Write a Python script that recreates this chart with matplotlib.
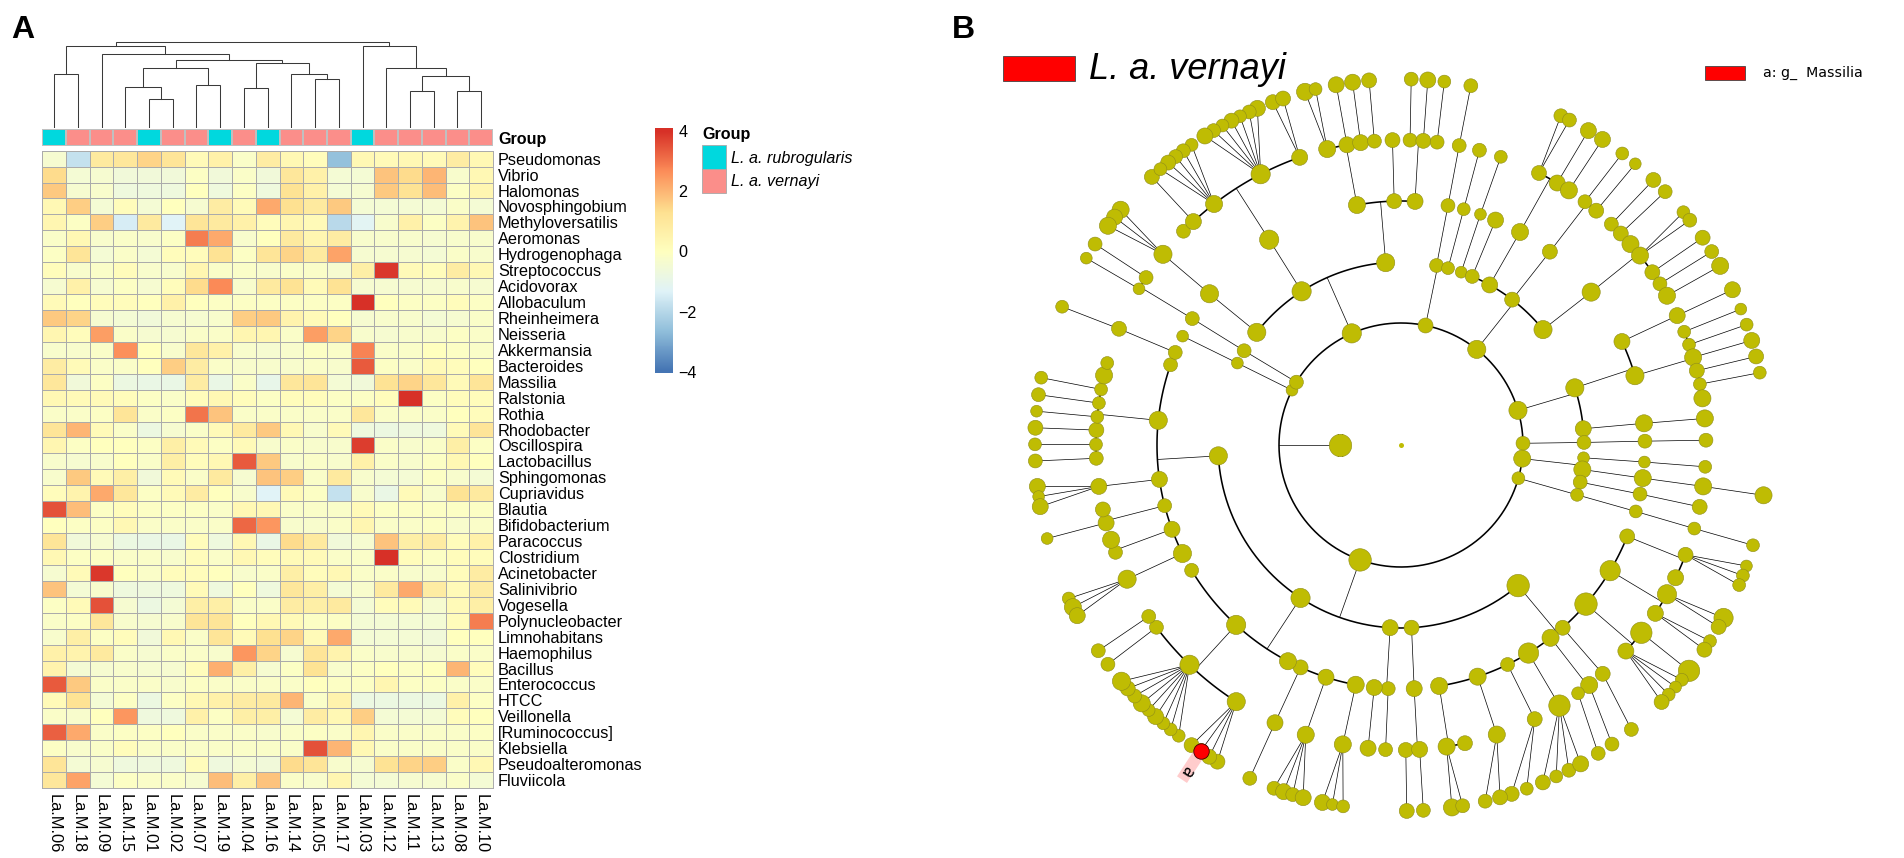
import numpy as np
import matplotlib
matplotlib.use('Agg')
import matplotlib.pyplot as plt
from matplotlib.colors import LinearSegmentedColormap, ListedColormap
from matplotlib.patches import Rectangle

plt.rcParams['font.family'] = ['Liberation Sans', 'DejaVu Sans']

# ---------- panel A data ----------
genera = ['Pseudomonas','Vibrio','Halomonas','Novosphingobium','Methyloversatilis','Aeromonas','Hydrogenophaga',
          'Streptococcus','Acidovorax','Allobaculum','Rheinheimera','Neisseria','Akkermansia','Bacteroides','Massilia',
          'Ralstonia','Rothia','Rhodobacter','Oscillospira','Lactobacillus','Sphingomonas','Cupriavidus','Blautia',
          'Bifidobacterium','Paracoccus','Clostridium','Acinetobacter','Salinivibrio','Vogesella','Polynucleobacter',
          'Limnohabitans','Haemophilus','Bacillus','Enterococcus','HTCC','Veillonella','[Ruminococcus]','Klebsiella',
          'Pseudoalteromonas','Fluviicola']
samples = ['La.M.06','La.M.18','La.M.09','La.M.15','La.M.01','La.M.02','La.M.07','La.M.19','La.M.04','La.M.16',
           'La.M.14','La.M.05','La.M.17','La.M.03','La.M.12','La.M.11','La.M.13','La.M.08','La.M.10']
sample_group = [0,1,1,1,0,1,1,0,1,0,1,1,1,0,1,1,1,1,1]
group_names = ['L. a. rubrogularis', 'L. a. vernayi']
group_colors = ['#00D8DE', '#FB8E8A']

zscores = [
 [-0.4,-1.8,0.9,1.0,1.5,1.1,0.2,0.6,-0.2,0.8,0.3,0.1,-2.6,0.3,0.2,0.3,0.2,0.8,0.3],
 [1.4,-0.5,-0.4,-0.6,-0.6,-0.6,-0.1,-0.6,-0.2,-0.6,1.0,0.6,-0.5,-0.5,1.8,1.4,2.0,-0.3,0.3],
 [1.7,-0.4,-0.3,-0.7,-0.7,-0.7,0,-0.7,-0.1,-0.7,1.2,0.6,-0.5,-0.4,1.7,1.2,1.9,-0.1,0.4],
 [0.3,1.6,-0.5,0.1,-0.5,0,-0.4,0.8,0.2,2.2,1.3,0.9,1.7,-0.5,-0.5,-0.5,-0.5,-0.2,-0.5],
 [0.4,-0.1,1.6,-1.5,0.9,-1.3,1.1,0.9,0.6,0.1,0.4,0.2,-2.0,-1.2,-0.3,0.6,-0.1,0.5,1.8],
 [-0.2,0.3,-0.3,-0.2,-0.3,-0.1,2.9,2.2,-0.3,0,0.9,0.4,0.8,-0.3,-0.3,-0.3,-0.4,-0.3,-0.3],
 [-0.1,1.1,-0.5,-0.2,-0.5,0.1,0.1,1.2,-0.1,1.1,1.5,0.9,2.3,-0.4,-0.4,-0.4,-0.5,-0.2,-0.3],
 [0.1,-0.3,-0.2,0.1,-0.3,-0.3,0.4,-0.2,-0.2,-0.3,-0.2,-0.2,-0.4,0.7,3.9,0.2,0.1,0.8,0.3],
 [-0.4,0.6,-0.4,-0.1,-0.4,0.1,1.4,2.7,-0.3,0.9,1.2,0.2,1.2,-0.4,-0.4,-0.4,-0.4,-0.3,-0.4],
 [0.2,0,0.1,0.1,0,0.6,0,-0.1,-0.1,-0.1,-0.1,-0.1,-0.1,4.0,0,-0.1,-0.1,0.1,-0.1],
 [1.7,1.5,-0.4,-0.5,-0.6,-0.4,-0.4,-0.3,1.6,1.7,0.5,0.2,0,-0.4,-0.3,-0.3,-0.5,-0.4,-0.2],
 [0.4,0.1,2.4,-0.2,-0.4,-0.4,-0.2,-0.2,0.4,0.4,-0.2,2.4,1.5,-0.3,-0.4,-0.3,-0.3,-0.1,-0.2],
 [-0.3,-0.3,-0.2,2.6,0,-0.3,1.0,0.6,-0.3,-0.4,-0.3,-0.1,-0.2,2.8,-0.2,-0.2,0,-0.1,-0.2],
 [0.8,0.2,-0.2,-0.2,0,1.6,0.8,-0.2,-0.3,-0.3,-0.3,-0.2,-0.3,3.4,-0.1,-0.2,0.2,0.1,0],
 [1.0,-0.6,-0.1,-0.8,-0.9,-0.9,0.8,-0.9,-0.2,-1.0,1.0,1.1,-0.5,-0.6,1.2,1.5,1.0,0.2,1.1],
 [0.3,0.2,0.2,0.1,-0.1,-0.2,0.1,0.3,0.1,-0.1,0.1,0.1,-0.1,-0.1,0.1,4.0,-0.1,0.1,0.1],
 [-0.2,-0.2,-0.1,1.1,-0.2,-0.1,3.0,1.8,-0.2,-0.2,-0.2,-0.2,-0.2,1.0,-0.2,-0.2,-0.2,0,0.1],
 [1.1,2.0,0.2,-0.2,-0.8,-0.4,-0.2,0.2,0.9,1.7,0.3,-0.3,0.2,-0.7,-0.8,-0.7,-0.7,0.2,1.1],
 [0.4,-0.1,0,0,-0.1,0.7,0.2,-0.1,0.2,-0.3,-0.2,-0.3,-0.3,3.8,-0.2,-0.3,-0.2,0.7,-0.1],
 [-0.3,-0.4,-0.3,0,-0.2,0.7,0.1,0.3,3.4,1.7,-0.3,-0.2,-0.3,0.6,-0.2,-0.3,-0.1,0.3,0],
 [-0.3,1.7,0.2,0.7,-0.6,0.2,-0.2,0.9,-0.4,1.8,1.6,-0.2,0.9,-0.3,-0.5,-0.5,-0.1,-0.3,-0.5],
 [0.1,0.5,2.2,1.0,-0.1,0.2,0.8,0,-0.3,-1.3,0.2,-0.1,-1.8,-0.3,-0.9,0.2,-0.3,1.2,0.9],
 [3.5,1.9,-0.1,0.1,-0.1,-0.1,-0.1,-0.2,0.3,0.3,-0.2,-0.2,-0.2,0.2,-0.1,-0.1,-0.1,-0.1,-0.1],
 [0,-0.1,-0.1,0.3,-0.2,-0.2,-0.2,-0.2,3.2,2.5,-0.3,-0.3,-0.2,0.4,-0.2,-0.2,-0.1,-0.3,-0.2],
 [1.1,-0.6,-0.4,-0.8,-0.9,-0.9,0.1,-0.7,0.3,-0.9,1.4,0.9,-0.6,-0.4,1.8,0.7,0.8,0.1,0.6],
 [0.3,-0.1,-0.1,-0.2,-0.2,-0.3,0.1,-0.2,0.3,0.1,0.2,0.2,-0.2,-0.2,4.0,0.1,-0.1,0.1,0.1],
 [-0.4,0.2,3.9,0,-0.2,0.1,0.1,0,-0.3,-0.2,0.7,0.1,0.3,-0.2,-0.2,-0.3,-0.3,0.1,0.8],
 [1.8,-0.5,-0.3,-0.7,-0.7,-0.7,0.2,-0.7,0,-0.7,1.0,0.7,-0.5,-0.3,0.9,2.2,0.8,0.2,0.8],
 [-0.1,0.2,3.5,-0.4,-0.8,-0.5,0.7,0.7,-0.2,-0.2,0.8,0.7,0.9,-0.5,0.1,0.2,-0.4,0.2,0.7],
 [-0.2,-0.1,1.0,-0.3,-0.4,-0.3,1.1,1.1,0,0.3,0.2,-0.1,-0.1,-0.5,-0.5,-0.5,-0.5,0.1,2.9],
 [-0.3,0.7,-0.1,0.1,-0.6,0.3,-0.2,1.1,0.2,1.3,1.5,0.2,2.2,-0.5,-0.5,-0.5,-0.6,0,0],
 [0.6,0.5,0.9,-0.2,-0.4,-0.2,-0.2,-0.3,2.5,1.5,-0.4,1.1,0.5,-0.2,-0.3,-0.3,-0.4,-0.2,-0.2],
 [0.5,-0.5,-0.4,-0.3,-0.4,-0.4,0.1,2.1,0.7,-0.4,-0.1,1.2,-0.3,-0.1,0,-0.1,0,2.0,0.1],
 [3.4,1.7,-0.2,-0.2,-0.2,-0.3,-0.1,-0.2,-0.2,-0.2,-0.2,0,-0.1,-0.1,0.4,-0.1,-0.1,-0.2,-0.2],
 [0.2,1.2,-0.5,-0.1,-0.8,-0.1,0.3,0.6,0.8,0.9,2.0,-0.2,0.5,-0.8,-0.8,-0.8,-0.8,0.6,-0.1],
 [-0.2,-0.3,0,2.5,-0.7,-0.7,0.6,-0.1,0.7,0.7,-0.5,0.8,0.3,1.6,-0.5,-0.5,-0.5,0.1,0],
 [3.3,2.2,-0.2,-0.1,-0.1,0,-0.2,-0.2,-0.2,-0.3,-0.2,-0.1,-0.2,0.4,-0.2,-0.2,-0.2,-0.2,-0.1],
 [-0.1,-0.3,-0.2,0.1,-0.2,-0.2,-0.2,-0.2,-0.2,-0.2,-0.2,3.5,2.0,0.3,-0.2,-0.2,-0.2,-0.2,-0.2],
 [1.1,-0.5,-0.4,-0.7,-0.7,-0.7,0.1,-0.7,-0.5,-0.6,1.4,1.1,-0.3,-0.4,1.2,1.5,1.6,-0.2,0.3],
 [1.0,2.3,-0.5,-0.1,-0.2,-0.2,-0.4,1.9,0.7,1.8,-0.2,-0.3,0.4,-0.5,-0.5,-0.4,-0.4,-0.2,-0.5],
]

# dendrogram merges: (left id, right id, height); ids >= 19 refer to earlier merges
merges = [(0,1,53.4),(4,5,28.4),(3,20,41),(6,7,42.4),(21,22,59.4),(8,9,39.4),(11,12,48.4),(10,25,53.4),(24,26,65),
          (23,27,67.4),(2,28,73.4),(19,29,81.4),(15,16,36.4),(17,18,36.4),(31,32,52),(14,33,59.4),(13,34,81.4),(30,35,85.4)]

# ---------- panel B data (cladogram: angle in degrees, parent index in the previous ring, node size) ----------
ring2_deg = [113.8,78.4,51.6,16.5,0.8,353.6,344.2,250.4,153.3,149.0]
ring2_size = [18,14,17,17,13,16,12,21,11,13]
ring3_deg = [142.0,122.9,94.8,78.8,75.1,70.8,67.1,61.0,52.6,39.1,18.2,5.1,0.8,356.0,352.3,348.3,344.2,309.8,273.3,266.6,236.7,183.4,153.4,149.0]
ring3_parent = [0,0,0,1,1,2,2,2,2,2,3,3,4,5,5,5,6,7,7,7,7,7,8,9]
ring3_size = [17,18,17,13,12,11,13,15,14,17,17,15,13,11,16,13,12,21,14,15,18,17,11,13]
ring4_deg = [141.7,122.7,100.4,91.6,86.7,78.9,75.1,71.0,67.2,60.8,52.4,38.8,25.1,16.5,5.1,0.9,356.0,352.2,348.4,344.2,338.0,329.0,319.3,311.5,307.8,301.5,295.9,288.3,
             279.0,273.1,267.0,263.7,259.3,252.1,245.7,242.4,227.5,210.9,206.4,200.2,194.4,188.1,174.2,160.8,157.7,153.5,148.8]
ring4_parent = [0,1,2,2,2,3,4,5,6,7,8,9,10,10,11,12,13,14,15,16,17,17,17,17,17,17,17,17,17,18,19,19,20,20,20,20,20,20,21,21,21,21,21,21,21,22,23]
ring4_size = [17,18,16,14,15,13,12,11,15,16,14,17,15,17,16,13,11,16,13,12,14,19,21,14,16,19,13,16,16,15,13,15,16,15,14,16,18,13,17,15,13,15,17,13,13,11,13]
ring5_deg = [141.3,135.5,132.9,127.8,117.4,109.4,104.0,100.2,97.6,95.0,91.6,88.3,85.8,83.2,79.0,75.1,70.9,63.1,59.2,56.6,52.9,50.2,46.4,43.9,41.2,38.4,34.5,31.9,
             29.3,25.1,21.8,19.2,16.7,14.1,11.5,8.8,5.0,0.9,355.9,352.2,348.3,344.1,338.9,334.2,330.7,326.5,322.0,317.5,311.4,308.1,305.5,301.3,296.0,288.3,278.6,282.1,
             270.9,273.5,267.1,263.8,259.0,251.8,245.6,237.3,226.1,216.7,214.2,206.1,200.6,198.1,194.8,192.2,187.8,182.5,179.9,177.2,174.7,172.1,169.5,166.8,164.4,157.6,149.2,146.7]
ring5_parent = [0,1,1,1,1,1,2,2,2,2,3,4,4,4,5,6,7,9,9,9,10,10,11,11,11,11,11,11,11,12,13,13,13,13,13,13,14,15,16,17,18,19,20,20,21,21,22,22,23,24,24,25,26,27,28,28,29,29,30,31,
                32,33,34,36,36,36,36,38,39,39,40,40,41,42,42,42,42,42,42,42,42,44,46,46]
ring5_size = [17,13,15,16,18,15,16,15,15,13,14,13,14,13,13,13,12,14,15,16,13,14,13,14,16,16,14,13,16,15,12,12,16,14,12,16,16,13,12,16,14,12,
              14,15,18,15,20,15,14,16,12,20,14,16,16,14,14,15,13,15,16,16,15,17,18,13,13,17,13,16,15,14,15,13,12,14,12,12,12,16,12,14,11,13]
ring6_deg = [140.0,141.5,143.2,132.9,124.9,126.5,128.0,129.5,131.1,113.1,114.5,116.1,117.6,119.2,120.8,122.4,110.5,108.8,105.2,103.5,100.2,97.6,95.0,88.4,85.8,83.2,79.0,64.1,
             62.6,59.2,56.6,52.8,50.2,46.4,43.8,39.5,37.9,34.5,31.9,29.3,25.1,21.8,19.2,16.6,14.0,11.4,352.1,344.1,340.7,339.1,337.5,331.8,330.2,327.6,326.0,321.9,
             320.1,318.6,317.0,315.4,309.0,305.2,302.6,292.8,295.1,297.3,299.4,287.6,290.1,283.3,285.7,278.0,279.7,270.9,273.5,257.6,259.2,260.9,249.7,251.3,252.8,254.5,245.6,239.9,
             238.4,236.8,235.1,232.6,231.0,229.5,227.9,226.4,224.9,223.3,221.7,220.2,216.8,214.2,204.8,206.3,207.8,194.8,186.5,188.1,189.7,182.5,179.9,177.3,174.7,172.1,169.4,157.8,
             149.3,146.7]
ring6_parent = [0,0,0,2,3,3,3,3,3,4,4,4,4,4,4,4,5,5,6,6,7,8,9,11,12,13,14,17,17,18,19,20,21,22,23,25,25,26,27,28,29,30,31,32,33,34,39,41,42,42,42,44,44,45,45,46,47,47,47,47,
                48,49,50,51,51,51,51,52,52,53,53,54,54,56,57,60,60,60,61,61,61,61,62,63,63,63,63,64,64,64,64,64,64,64,64,64,65,66,67,67,67,70,72,72,72,73,74,75,76,77,78,81,82,83]
ring6_size = [16,15,16,14,12,13,13,14,12,15,13,12,14,12,13,15,14,14,16,12,15,15,14,13,15,12,13,13,13,15,15,12,11,14,13,12,13,14,13,16,15,11,12,15,14,12,16,12,11,12,12,18,14,12,14,20,12,11,12,14,
              13,13,13,14,12,13,15,14,12,13,14,16,13,14,13,15,11,12,13,15,13,15,13,14,14,15,14,12,12,12,15,12,16,13,14,17,13,13,12,16,15,11,15,11,15,13,12,14,11,13,12,12,11,13]
highlight_index = 85
highlight_label = 'a'
level1_deg, level1_size = 180.0, 21
root_size = 5
legend_big = 'L. a. vernayi'
legend_small = 'a: g_  Massilia'

# ---------- layout helpers ----------
W, H = 1904, 858
fig = plt.figure(figsize=(W/100, H/100), dpi=100)

def px_axes(x0, y0, x1, y1, **kw):
    return fig.add_axes([x0/W, 1-y1/H, (x1-x0)/W, (y1-y0)/H], **kw)

overlay = px_axes(0, 0, W, H)
overlay.set_xlim(0, W); overlay.set_ylim(H, 0); overlay.axis('off')

HM_L, HM_R, HM_T, HM_B = 42.3, 493.0, 150.7, 788.0
cmap = LinearSegmentedColormap.from_list('rb', ['#4575B4','#91BFDB','#E0F3F8','#FFFFBF','#FEE090','#FC8D59','#D73027'], N=256)
nr, nc = len(genera), len(samples)
GRID = '#ABABAB'

# heatmap
ax = px_axes(HM_L, HM_T, HM_R, HM_B)
ax.pcolormesh(np.arange(nc+1), np.arange(nr+1), np.array(zscores), cmap=cmap, vmin=-4, vmax=4, edgecolors=GRID, linewidth=0.5)
ax.set_xlim(0, nc); ax.set_ylim(nr, 0)
ax.yaxis.tick_right()
ax.set_yticks(np.arange(nr)+.5, genera, fontsize=11.7)
ax.set_xticks(np.arange(nc)+.5, samples, fontsize=11.8, rotation=270)
ax.tick_params(length=0, axis='y', pad=3.6)
ax.tick_params(length=0, axis='x', pad=4.2)
for s in ax.spines.values():
    s.set_edgecolor(GRID); s.set_linewidth(0.7)

# annotation row
ax = px_axes(HM_L, 129.3, HM_R, 146.0)
ax.pcolormesh(np.arange(nc+1), [0, 1], np.array([sample_group]), cmap=ListedColormap(group_colors), vmin=0, vmax=1, edgecolors='#C0C0C0', linewidth=0.3)
ax.set_xlim(0, nc); ax.set_ylim(0, 1); ax.set_xticks([])
ax.yaxis.tick_right()
ax.set_yticks([.5], ['Group'], fontsize=11.6, fontweight='bold')
ax.tick_params(length=0, pad=3.6)
for s in ax.spines.values():
    s.set_visible(False)

# dendrogram
ax = px_axes(HM_L, 35, HM_R, 127.7)
ax.set_xlim(0, nc); ax.set_ylim(0, 92.7); ax.axis('off')
pos = {i: (i+.5, 0.0) for i in range(nc)}
for k, (a, b, h) in enumerate(merges):
    xa, ya = pos[a]; xb, yb = pos[b]
    ax.plot([xa, xa, xb, xb], [ya, h, h, yb], color='#3A3A3A', lw=0.75, solid_joinstyle='miter')
    pos[nc+k] = ((xa+xb)/2, h)

# colour bar
ax = px_axes(655, 128.3, 672.3, 373.3)
ax.imshow(np.linspace(4.09, -4.05, 256)[:, None], aspect='auto', cmap=cmap, vmin=-4, vmax=4, extent=[0, 1, -4.05, 4.09])
ax.set_xticks([]); ax.yaxis.tick_right()
ax.set_yticks([4, 2, 0, -2, -4], ['4', '2', '0', '\u22122', '\u22124'], fontsize=11.6)
ax.tick_params(length=0, pad=4.5)
for s in ax.spines.values():
    s.set_visible(False)

# group legend
overlay.text(702.5, 134, 'Group', fontsize=11.6, fontweight='bold', va='center')
for i, (name, col) in enumerate(zip(group_names, group_colors)):
    overlay.add_patch(Rectangle((702.3, 145.3+i*23.7), 23.7, 23.7, fc=col, ec='#A8A8A8', lw=0.6))
    overlay.text(731, 158+i*23.7, name, fontsize=11.6, style='italic', va='center')

# panel letters
overlay.text(11, 38, 'A', fontsize=23, fontweight='bold', va='baseline')
overlay.text(952, 38, 'B', fontsize=23, fontweight='bold', va='baseline')

# cladogram legends
overlay.add_patch(Rectangle((1003.3, 55.7), 71.7, 25, fc='#FF0000', ec='#444444', lw=0.6))
overlay.text(1089, 79, legend_big, fontsize=26, style='italic', va='baseline')
overlay.add_patch(Rectangle((1705.3, 66), 39.7, 14, fc='#FF0000', ec='#444444', lw=0.6))
overlay.text(1763, 73, legend_small, fontsize=10.2, family='DejaVu Sans', va='center')

# cladogram
CX, CY, RMAX = 1401, 445, 400
pol = fig.add_axes([(CX-RMAX)/W, 1-(CY+RMAX)/H, 2*RMAX/W, 2*RMAX/H], projection='polar')
pol.patch.set_alpha(0)
pol.axis('off')
RING = 61.0
OLIVE, EDGE = '#BFBC03', '#8E8C1A'
THIN, THICK = 0.5, 1.15
SCALE = 0.72 * 1.07

def draw_arc(a0, a1, r):
    t = np.radians(np.linspace(a0, a1, max(int(abs(a1-a0))*2, 3)))
    pol.plot(t, np.full(t.size, r), color='black', lw=THICK, zorder=2, solid_capstyle='butt')

def line(a0, r0, a1, r1):
    pol.plot(np.radians([a0, a1]), [r0, r1], color='black', lw=THIN, zorder=1)

def nodes(deg, r, size, zorder=3):
    pol.scatter(np.radians(deg), np.full(len(deg), r), s=(np.array(size)*SCALE)**2, c=OLIVE,
                edgecolors=EDGE, linewidths=0.4, zorder=zorder)

draw_arc(0, 360, 2*RING)
line(level1_deg, 2*RING, level1_deg, RING)

rings = [(ring2_deg, None, ring2_size), (ring3_deg, ring3_parent, ring3_size), (ring4_deg, ring4_parent, ring4_size),
         (ring5_deg, ring5_parent, ring5_size), (ring6_deg, ring6_parent, ring6_size)]
for level in range(1, len(rings)):
    deg, parent, _ = rings[level]
    pdeg = rings[level-1][0]
    r_child, r_par = (level+2)*RING, (level+1)*RING
    by_parent = {}
    for a, p in zip(deg, parent):
        by_parent.setdefault(p, []).append(a)
    for p, kids in by_parent.items():
        if level == 4 or len(kids) == 1:
            for a in kids:
                line(pdeg[p], r_par, a, r_child)
        else:
            draw_arc(min(kids+[pdeg[p]]), max(kids+[pdeg[p]]), r_child)
            line(pdeg[p], r_par, pdeg[p], r_child)

pol.scatter([0], [0], s=(root_size*0.72)**2, c=OLIVE, linewidths=0, zorder=3)
nodes([level1_deg], RING, [level1_size])
for level, (deg, _, size) in enumerate(rings):
    nodes(deg, (level+2)*RING, size)

# highlighted clade
th = np.radians(ring6_deg[highlight_index])
pol.plot([th, th], [369, 410], color='#FFCCCC', lw=8.6, solid_capstyle='butt', zorder=3.5)
pol.scatter([th], [6*RING], s=(15.5*0.72)**2, c='#FF0000', edgecolors='#400000', linewidths=0.6, zorder=5)
pol.text(th, 391, highlight_label, rotation=ring6_deg[highlight_index], rotation_mode='anchor', ha='center', va='center',
         family='DejaVu Sans', fontsize=12, zorder=6)
pol.set_ylim(0, RMAX)

fig.savefig('out.png', dpi=100)
